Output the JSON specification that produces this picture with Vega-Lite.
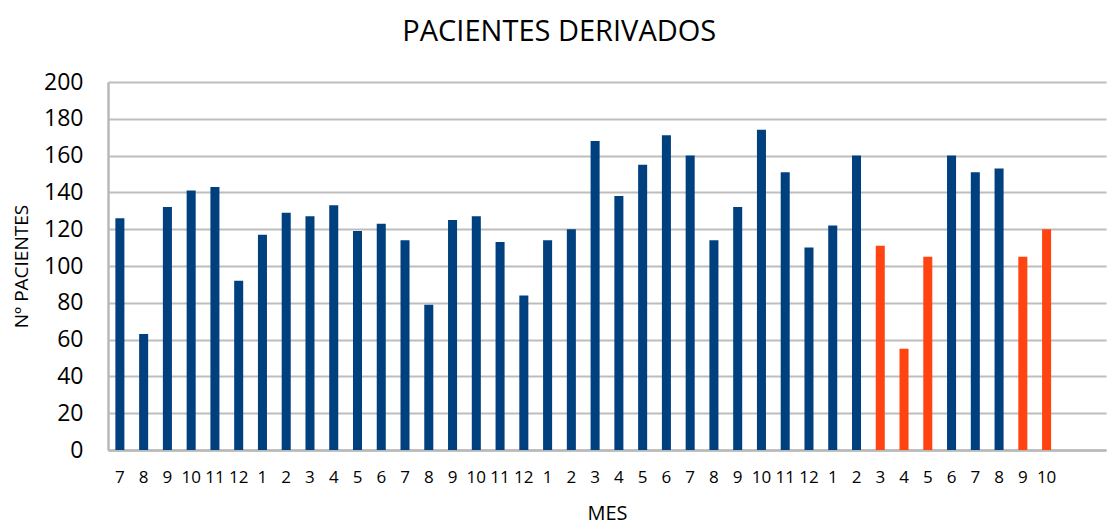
{
  "$schema": "https://vega.github.io/schema/vega-lite/v6.json",
  "autosize": "none",
  "width": 998,
  "height": 368,
  "padding": {"left": 108, "top": 82, "right": 12, "bottom": 78},
  "background": "white",
  "title": {
    "text": "PACIENTES DERIVADOS",
    "font": "Open Sans",
    "fontSize": 29,
    "fontWeight": "normal",
    "color": "#000000",
    "anchor": "middle",
    "frame": "bounds",
    "offset": 24
  },
  "data": {
    "values": [
      {"i": 1, "mes": 7, "v": 126, "g": "a"},
      {"i": 2, "mes": 8, "v": 63, "g": "a"},
      {"i": 3, "mes": 9, "v": 132, "g": "a"},
      {"i": 4, "mes": 10, "v": 141, "g": "a"},
      {"i": 5, "mes": 11, "v": 143, "g": "a"},
      {"i": 6, "mes": 12, "v": 92, "g": "a"},
      {"i": 7, "mes": 1, "v": 117, "g": "a"},
      {"i": 8, "mes": 2, "v": 129, "g": "a"},
      {"i": 9, "mes": 3, "v": 127, "g": "a"},
      {"i": 10, "mes": 4, "v": 133, "g": "a"},
      {"i": 11, "mes": 5, "v": 119, "g": "a"},
      {"i": 12, "mes": 6, "v": 123, "g": "a"},
      {"i": 13, "mes": 7, "v": 114, "g": "a"},
      {"i": 14, "mes": 8, "v": 79, "g": "a"},
      {"i": 15, "mes": 9, "v": 125, "g": "a"},
      {"i": 16, "mes": 10, "v": 127, "g": "a"},
      {"i": 17, "mes": 11, "v": 113, "g": "a"},
      {"i": 18, "mes": 12, "v": 84, "g": "a"},
      {"i": 19, "mes": 1, "v": 114, "g": "a"},
      {"i": 20, "mes": 2, "v": 120, "g": "a"},
      {"i": 21, "mes": 3, "v": 168, "g": "a"},
      {"i": 22, "mes": 4, "v": 138, "g": "a"},
      {"i": 23, "mes": 5, "v": 155, "g": "a"},
      {"i": 24, "mes": 6, "v": 171, "g": "a"},
      {"i": 25, "mes": 7, "v": 160, "g": "a"},
      {"i": 26, "mes": 8, "v": 114, "g": "a"},
      {"i": 27, "mes": 9, "v": 132, "g": "a"},
      {"i": 28, "mes": 10, "v": 174, "g": "a"},
      {"i": 29, "mes": 11, "v": 151, "g": "a"},
      {"i": 30, "mes": 12, "v": 110, "g": "a"},
      {"i": 31, "mes": 1, "v": 122, "g": "a"},
      {"i": 32, "mes": 2, "v": 160, "g": "a"},
      {"i": 33, "mes": 3, "v": 111, "g": "b"},
      {"i": 34, "mes": 4, "v": 55, "g": "b"},
      {"i": 35, "mes": 5, "v": 105, "g": "b"},
      {"i": 36, "mes": 6, "v": 160, "g": "a"},
      {"i": 37, "mes": 7, "v": 151, "g": "a"},
      {"i": 38, "mes": 8, "v": 153, "g": "a"},
      {"i": 39, "mes": 9, "v": 105, "g": "b"},
      {"i": 40, "mes": 10, "v": 120, "g": "b"}
    ]
  },
  "mark": {"type": "bar"},
  "encoding": {
    "x": {
      "field": "i",
      "type": "ordinal",
      "scale": {
        "domain": [1,2,3,4,5,6,7,8,9,10,11,12,13,14,15,16,17,18,19,20,21,22,23,24,25,26,27,28,29,30,31,32,33,34,35,36,37,38,39,40,41,42],
        "paddingInner": 0.62,
        "paddingOuter": 0.31
      },
      "axis": {
        "title": "MES",
        "titleFont": "Open Sans",
        "titleFontSize": 20,
        "titleFontWeight": "normal",
        "titleColor": "#000000",
        "titlePadding": 18,
        "labelExpr": "['7','8','9','10','11','12','1','2','3','4','5','6','7','8','9','10','11','12','1','2','3','4','5','6','7','8','9','10','11','12','1','2','3','4','5','6','7','8','9','10','',''][datum.value-1]",
        "labelAngle": 0,
        "labelFont": "Open Sans",
        "labelFontSize": 17,
        "labelColor": "#000000",
        "labelPadding": 19,
        "labelOverlap": false,
        "ticks": false,
        "domainColor": "#b8b8b8",
        "domainWidth": 2.5,
        "grid": false
      }
    },
    "y": {
      "field": "v",
      "type": "quantitative",
      "scale": {"domain": [0, 200]},
      "axis": {
        "title": "Nº PACIENTES",
        "titleFont": "Open Sans",
        "titleFontSize": 19,
        "titleFontWeight": "normal",
        "titleColor": "#000000",
        "titlePadding": 12,
        "values": [0,20,40,60,80,100,120,140,160,180,200],
        "labelFont": "Open Sans",
        "labelFontSize": 23,
        "labelColor": "#000000",
        "labelPadding": 25,
        "ticks": false,
        "domainColor": "#b8b8b8",
        "domainWidth": 2.5,
        "grid": true,
        "gridColor": "#bdbdbd",
        "gridWidth": 2
      }
    },
    "color": {
      "field": "g",
      "type": "nominal",
      "scale": {"domain": ["a", "b"], "range": ["#00407F", "#FF4412"]},
      "legend": null
    }
  },
  "config": {"view": {"stroke": null}}
}
